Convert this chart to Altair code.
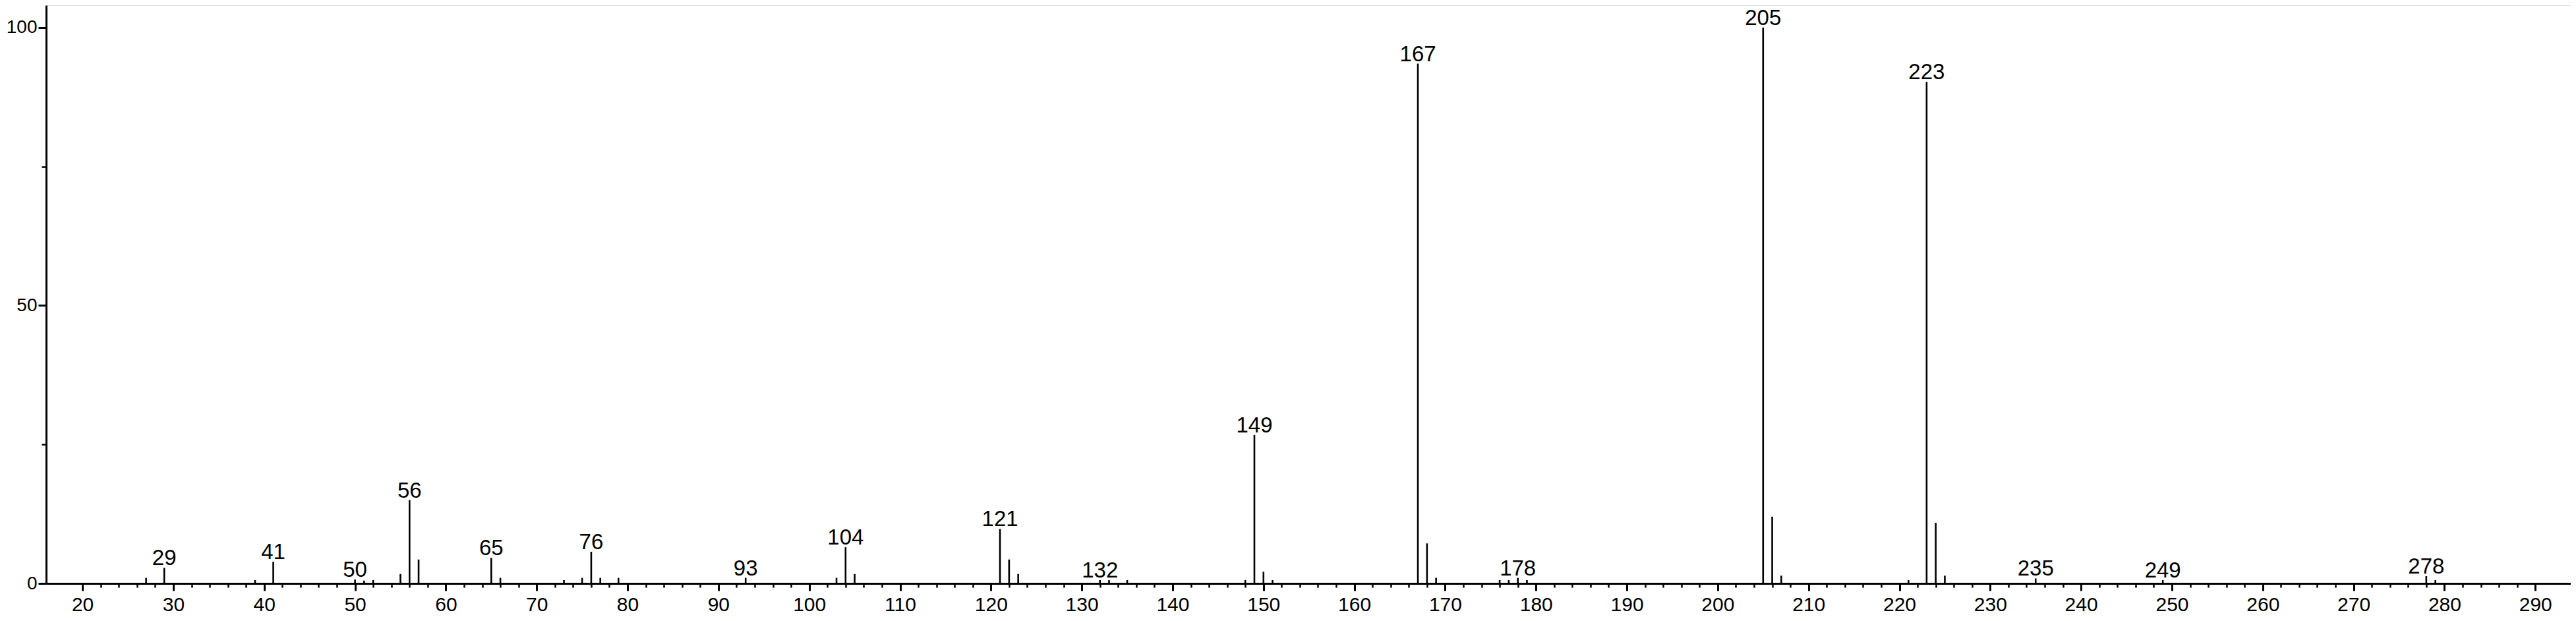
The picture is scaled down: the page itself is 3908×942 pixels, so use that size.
import altair as alt
import pandas as pd

# m/z values and relative intensities (%)
mz = [27, 29, 39, 41, 50, 51, 52, 55, 56, 57, 65, 66, 73, 75, 76, 77, 79,
      93, 103, 104, 105, 121, 122, 123, 132, 133, 135, 148, 149, 150, 151,
      167, 168, 169, 176, 177, 178, 179, 205, 206, 207, 221, 223, 224, 225,
      235, 249, 278, 279]
intensity = [1.0, 2.8, 0.6, 3.9, 0.7, 0.5, 0.6, 1.7, 15.0, 4.3, 4.6, 1.0, 0.6, 1.0, 5.7, 1.0, 1.0,
             1.0, 1.0, 6.5, 1.7, 9.8, 4.3, 1.7, 0.6, 0.6, 0.6, 0.6, 26.7, 2.1, 0.6,
             93.5, 7.2, 1.0, 0.6, 0.6, 1.0, 0.6, 100.0, 12.0, 1.4, 0.6, 90.2, 10.9, 1.4,
             0.9, 0.6, 1.3, 0.6]
labeled = [29, 41, 50, 56, 65, 76, 93, 104, 121, 132, 149, 167, 178, 205, 223, 235, 249, 278]

x_major = list(range(20, 300, 10))
x_minor = list(range(20, 292, 2))
y_major = [0, 50, 100]
y_minor = [0, 25, 50, 75, 100]

df = pd.DataFrame({"mz": mz, "intensity": intensity})
df_lab = df[df["mz"].isin(labeled)].copy()
df_lab["label"] = df_lab["mz"].astype(str)

FONT = "Liberation Sans"
xscale = alt.Scale(domain=[16, 293.9], nice=False, zero=False)
yscale = alt.Scale(domain=[0, 104.0], nice=False)

axis_common = dict(domainColor="black", tickColor="black", labelColor="black",
                   grid=False, title=None, labelFont=FONT)

x_axis_major = alt.Axis(orient="bottom", values=x_major, tickSize=11, tickWidth=3,
                        domainWidth=3, labelFontSize=30, labelPadding=6,
                        format="d", labelFlush=False, labelOverlap=False,
                        minExtent=49, maxExtent=49, **axis_common)
x_axis_minor = alt.Axis(orient="bottom", values=x_minor, tickSize=6, tickWidth=2.5,
                        domain=False, labels=False, minExtent=49, maxExtent=49,
                        **axis_common)
y_axis_major = alt.Axis(orient="left", values=y_major, tickSize=12, tickWidth=3,
                        domainWidth=3, labelFontSize=28, labelPadding=2,
                        format="d", labelFlush=False, labelOverlap=False,
                        minExtent=62, maxExtent=62, **axis_common)
y_axis_minor = alt.Axis(orient="left", values=y_minor, tickSize=7, tickWidth=2.5,
                        domain=False, labels=False, minExtent=62, maxExtent=62,
                        **axis_common)

peaks = alt.Chart(df).mark_rule(color="black", strokeWidth=2.6).encode(
    x=alt.X("mz:Q", scale=xscale, axis=x_axis_major),
    y=alt.Y("intensity:Q", scale=yscale, axis=y_axis_major),
    y2=alt.datum(0),
)

labels = alt.Chart(df_lab).mark_text(
    font=FONT, fontSize=33, color="black", baseline="alphabetic", align="center", dy=-4
).encode(
    x=alt.X("mz:Q", scale=xscale, axis=x_axis_minor),
    y=alt.Y("intensity:Q", scale=yscale, axis=y_axis_minor),
    text="label:N",
)

chart = alt.layer(peaks, labels).resolve_axis(
    x="independent", y="independent"
).properties(
    width=3830, height=877,
    autosize=alt.AutoSizeParams(type="none"),
    padding={"left": 62, "top": 0, "right": 0, "bottom": 49},
).configure_view(stroke=None).configure(background="white")

chart.save("out.html", embed_options={"renderer": "svg", "actions": False})
